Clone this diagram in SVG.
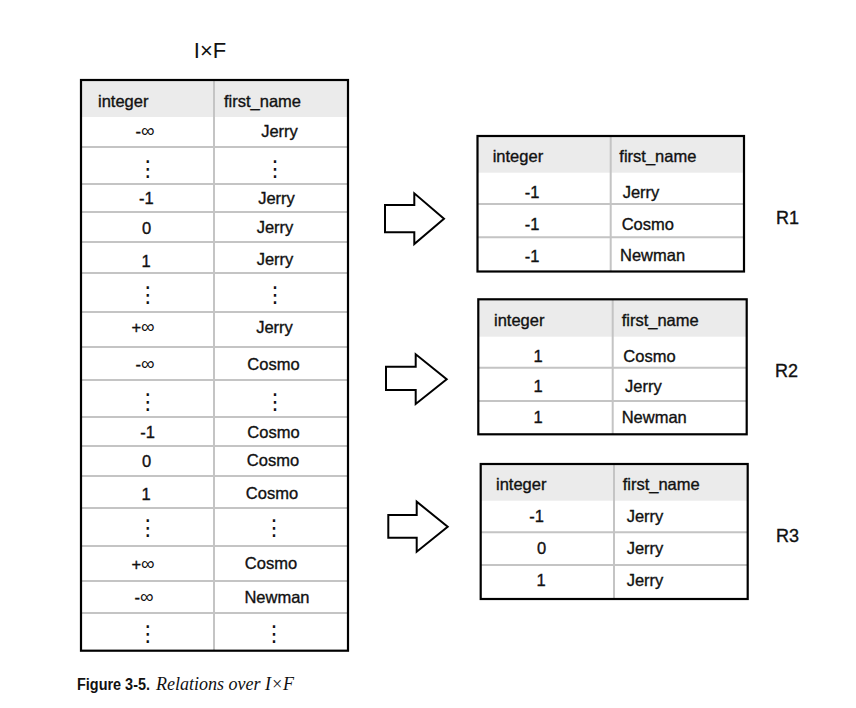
<svg xmlns="http://www.w3.org/2000/svg" width="856" height="708" viewBox="0 0 856 708">
<style>
.t{font-family:"Liberation Sans",Arial,sans-serif;font-size:16.5px;fill:#111;stroke:#111;stroke-width:0.35}
.m{text-anchor:middle}
.inf{font-size:19px;stroke-width:0}
.dots{font-family:"DejaVu Sans",sans-serif;font-size:22px;fill:#111;text-anchor:middle}
.hdr{fill:#ebebeb}
.grid{stroke:#c4c4c4;stroke-width:2;fill:none}
.border{stroke:#000;stroke-width:2.2;fill:none}
.arrow{fill:#fff;stroke:#000;stroke-width:2;stroke-linejoin:miter}
.lbl{font-family:"Liberation Sans",Arial,sans-serif;font-size:18px;fill:#111;stroke:#111;stroke-width:0.35}
</style>
<rect width="856" height="708" fill="#fff"/>

<text x="210" y="58" font-family="'Liberation Sans',Arial,sans-serif" font-size="22" fill="#111" text-anchor="middle">I×F</text>

<g id="table-IxF">
<rect class="hdr" x="81" y="80" width="267" height="37"/>
<path class="grid" d="M214 80V650.7M81 147H348M81 184H348M81 212H348M81 242H348M81 273H348M81 312H348M81 347H348M81 380H348M81 417H348M81 446H348M81 476H348M81 508H348M81 546H348M81 581H348M81 613H348"/>
<rect class="border" x="81" y="80" width="267" height="570.7"/>
<text class="t" x="98" y="106.5">integer</text>
<text class="t" x="224" y="106.5">first_name</text>
<text class="t m" x="145" y="136.5">-<tspan class="inf">∞</tspan></text><text class="t m" x="279.5" y="136.5">Jerry</text>
<text class="dots" x="147.7" y="176">⋮</text><text class="dots" x="275" y="176">⋮</text>
<text class="t m" x="146.3" y="204">-1</text><text class="t m" x="276.5" y="204">Jerry</text>
<text class="t m" x="146.7" y="233.5">0</text><text class="t m" x="275" y="233">Jerry</text>
<text class="t m" x="146" y="266.5">1</text><text class="t m" x="275" y="265">Jerry</text>
<text class="dots" x="147.7" y="302">⋮</text><text class="dots" x="275" y="302">⋮</text>
<text class="t m" x="143" y="333">+<tspan class="inf">∞</tspan></text><text class="t m" x="274.5" y="333">Jerry</text>
<text class="t m" x="145" y="370">-<tspan class="inf">∞</tspan></text><text class="t m" x="273.5" y="370">Cosmo</text>
<text class="dots" x="147.7" y="409">⋮</text><text class="dots" x="275" y="409">⋮</text>
<text class="t m" x="147.7" y="438">-1</text><text class="t m" x="273.5" y="437.5">Cosmo</text>
<text class="t m" x="146.7" y="467">0</text><text class="t m" x="273" y="466">Cosmo</text>
<text class="t m" x="146" y="500">1</text><text class="t m" x="272" y="499">Cosmo</text>
<text class="dots" x="147.7" y="535">⋮</text><text class="dots" x="274" y="535">⋮</text>
<text class="t m" x="143" y="570">+<tspan class="inf">∞</tspan></text><text class="t m" x="271" y="569">Cosmo</text>
<text class="t m" x="144" y="603">-<tspan class="inf">∞</tspan></text><text class="t m" x="277" y="603">Newman</text>
<text class="dots" x="147.7" y="641">⋮</text><text class="dots" x="274" y="641">⋮</text>
</g>

<g id="table-R1">
<rect class="hdr" x="477.5" y="136" width="266.5" height="36.7"/>
<path class="grid" d="M610.7 136V271.5M477.5 204H744M477.5 237.3H744"/>
<rect class="border" x="477.5" y="136" width="266.5" height="135.5"/>
<text class="t" x="492.7" y="162.3">integer</text>
<text class="t" x="619.3" y="162.3">first_name</text>
<text class="t m" x="532" y="198.3">-1</text><text class="t" x="622.7" y="197.5">Jerry</text>
<text class="t m" x="532" y="230">-1</text><text class="t" x="621.7" y="229.5">Cosmo</text>
<text class="t m" x="532" y="261.7">-1</text><text class="t" x="620" y="261">Newman</text>
</g>
<text id="label-R1" class="lbl" x="776" y="224">R1</text>

<g id="table-R2">
<rect class="hdr" x="478.3" y="299.3" width="268.4" height="37.4"/>
<path class="grid" d="M612.7 299.3V434.3M478.3 367.7H746.7M478.3 401H746.7"/>
<rect class="border" x="478.3" y="299.3" width="268.4" height="135"/>
<text class="t" x="494" y="326">integer</text>
<text class="t" x="621.7" y="326">first_name</text>
<text class="t m" x="538" y="361.7">1</text><text class="t" x="623.3" y="361.5">Cosmo</text>
<text class="t m" x="538" y="391.7">1</text><text class="t" x="625" y="391.5">Jerry</text>
<text class="t m" x="538" y="423.3">1</text><text class="t" x="621.7" y="423">Newman</text>
</g>
<text id="label-R2" class="lbl" x="775" y="376.7">R2</text>

<g id="table-R3">
<rect class="hdr" x="480.7" y="464" width="267" height="36.7"/>
<path class="grid" d="M614 464V599M480.7 532.3H747.7M480.7 565H747.7"/>
<rect class="border" x="480.7" y="464" width="267" height="135"/>
<text class="t" x="496" y="490">integer</text>
<text class="t" x="622.7" y="490">first_name</text>
<text class="t m" x="536.7" y="521.7">-1</text><text class="t" x="626.7" y="521.5">Jerry</text>
<text class="t m" x="541.7" y="554">0</text><text class="t" x="626.7" y="553.5">Jerry</text>
<text class="t m" x="541" y="586">1</text><text class="t" x="626.7" y="585.5">Jerry</text>
</g>
<text id="label-R3" class="lbl" x="776" y="542.3">R3</text>

<g id="connectors">
<polygon id="arrow-R1" class="arrow" points="385,205 414.3,205 414.3,193.3 444,218.7 414.3,244 414.3,232.3 385,232.3"/>
<polygon id="arrow-R2" class="arrow" points="386,366.7 415.7,366.7 415.7,354.3 446.7,379.2 415.7,404 415.7,390 386,390"/>
<polygon id="arrow-R3" class="arrow" points="388.3,515 416.7,515 416.7,501.7 447.7,526.7 416.7,551.7 416.7,537.7 388.3,537.7"/>
</g>

<g id="caption">
<text x="77" y="689.5" font-family="'Liberation Sans',Arial,sans-serif" font-size="16" font-weight="bold" fill="#111" textLength="73" lengthAdjust="spacingAndGlyphs">Figure 3-5.</text>
<text x="156" y="690" font-family="'Liberation Serif','Times New Roman',serif" font-size="18" font-style="italic" fill="#111">Relations over I×F</text>
</g>
</svg>
